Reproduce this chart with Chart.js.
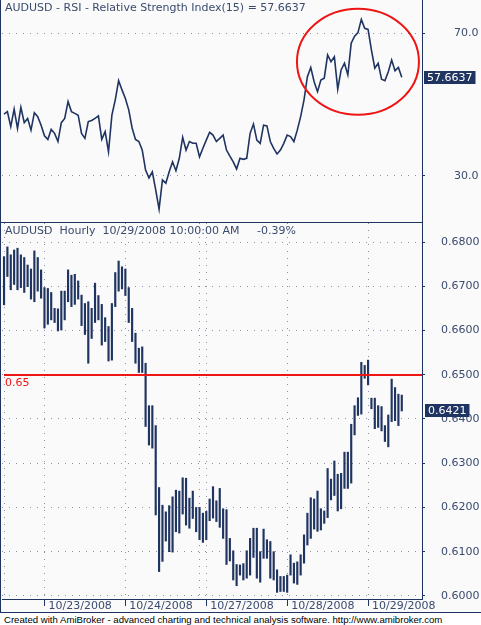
<!DOCTYPE html>
<html>
<head>
<meta charset="utf-8">
<title>AUDUSD Hourly - RSI</title>
<script src="https://cdn.jsdelivr.net/npm/chart.js@4.4.0/dist/chart.umd.min.js"></script>
<style>
    html, body { margin: 0; padding: 0; background: #fff; }
    #wrap { position: relative; width: 481px; height: 625px; overflow: hidden; }
    #rsi-pane { position: absolute; left: 0; top: 0; width: 481px; height: 223px; }
    #price-pane { position: absolute; left: 0; top: 223px; width: 481px; height: 390px; }
    #footer { position: absolute; left: 4px; top: 614px; font: 9.6px 'Liberation Sans', Arial, sans-serif; color: #000; white-space: nowrap; }
</style>
</head>
<body>
<div id="wrap">
    <div id="rsi-pane"><canvas id="rsi-chart"></canvas></div>
    <div id="price-pane"><canvas id="price-chart"></canvas></div>
    <div id="footer">Created with AmiBroker - advanced charting and technical analysis software. http://www.amibroker.com</div>
</div>
<script>
'use strict';

// AUDUSD hourly bars, 10/22/2008 12:00 .. 10/29/2008 10:00
let barHighs = [
    0.6767, 0.6789, 0.6771, 0.6782, 0.6786, 0.6771, 0.6765, 0.6748, 0.6739, 0.6780,
    0.6765, 0.6737, 0.6697, 0.6695, 0.6686, 0.6650, 0.6649, 0.6689, 0.6689, 0.6737,
    0.6725, 0.6727, 0.6712, 0.6680, 0.6661, 0.6665, 0.6650, 0.6707, 0.6679, 0.6659,
    0.6629, 0.6609, 0.6661, 0.6731, 0.6757, 0.6744, 0.6739, 0.6697, 0.6650, 0.6594,
    0.6560, 0.6563, 0.6526, 0.6430, 0.6430, 0.6385, 0.6245, 0.6205, 0.6190, 0.6204,
    0.6224, 0.6239, 0.6237, 0.6267, 0.6266, 0.6221, 0.6237, 0.6200, 0.6200, 0.6187,
    0.6191, 0.6219, 0.6247, 0.6215, 0.6243, 0.6197, 0.6195, 0.6130, 0.6102, 0.6071,
    0.6070, 0.6073, 0.6102, 0.6130, 0.6153, 0.6153, 0.6100, 0.6151, 0.6127, 0.6123,
    0.6100, 0.6059, 0.6044, 0.6044, 0.6047, 0.6093, 0.6074, 0.6077, 0.6093, 0.6138,
    0.6187, 0.6222, 0.6219, 0.6237, 0.6197, 0.6192, 0.6288, 0.6264, 0.6305, 0.6275,
    0.6277, 0.6325, 0.6325, 0.6388, 0.6430, 0.6448, 0.6528, 0.6521, 0.6533, 0.6447,
    0.6447, 0.6430, 0.6428, 0.6385, 0.6409, 0.6490, 0.6471, 0.6456, 0.6454
];
let barLows = [
    0.6658, 0.6722, 0.6692, 0.6704, 0.6692, 0.6697, 0.6686, 0.6699, 0.6671, 0.6665,
    0.6689, 0.6673, 0.6606, 0.6614, 0.6624, 0.6618, 0.6599, 0.6601, 0.6624, 0.6665,
    0.6654, 0.6659, 0.6671, 0.6611, 0.6591, 0.6526, 0.6582, 0.6618, 0.6624, 0.6567,
    0.6575, 0.6531, 0.6533, 0.6654, 0.6689, 0.6694, 0.6679, 0.6618, 0.6575, 0.6526,
    0.6505, 0.6505, 0.6383, 0.6341, 0.6334, 0.6183, 0.6055, 0.6078, 0.6124, 0.6100,
    0.6099, 0.6145, 0.6142, 0.6185, 0.6160, 0.6153, 0.6175, 0.6145, 0.6127, 0.6121,
    0.6127, 0.6170, 0.6176, 0.6168, 0.6155, 0.6130, 0.6071, 0.6079, 0.6036, 0.6023,
    0.6047, 0.6036, 0.6040, 0.6047, 0.6087, 0.6040, 0.6031, 0.6085, 0.6085, 0.6040,
    0.6036, 0.6008, 0.6010, 0.6010, 0.6008, 0.6047, 0.6029, 0.6026, 0.6047, 0.6074,
    0.6115, 0.6130, 0.6151, 0.6146, 0.6149, 0.6164, 0.6177, 0.6217, 0.6227, 0.6192,
    0.6197, 0.6243, 0.6243, 0.6255, 0.6364, 0.6408, 0.6411, 0.6492, 0.6477, 0.6423,
    0.6378, 0.6381, 0.6373, 0.6349, 0.6337, 0.6394, 0.6396, 0.6385, 0.6418
];
let rsiValues = [
    47.3, 48.0, 43.8, 48.7, 43.3, 49.2, 44.9, 46.1, 42.8, 47.7,
    46.6, 44.2, 41.2, 40.2, 43.0, 41.9, 39.6, 44.9, 46.1, 50.8,
    48.0, 47.5, 47.0, 41.9, 40.5, 45.2, 45.5, 46.1, 46.8, 40.2,
    42.4, 36.7, 47.0, 51.3, 56.7, 54.1, 51.7, 48.5, 43.4, 40.2,
    39.6, 37.2, 31.6, 29.4, 31.1, 26.0, 20.6, 28.8, 27.9, 31.1,
    33.9, 31.4, 34.9, 40.8, 37.2, 39.6, 39.1, 39.1, 35.3, 37.7,
    40.0, 42.2, 41.4, 39.6, 40.5, 41.4, 37.2, 35.5, 33.9, 31.9,
    34.9, 34.6, 34.9, 41.9, 44.5, 40.0, 39.1, 44.2, 44.0, 39.6,
    37.7, 36.1, 37.2, 39.1, 41.4, 41.0, 39.6, 42.8, 46.6, 51.3,
    57.8, 60.4, 56.4, 53.6, 56.9, 57.4, 63.9, 62.0, 63.4, 54.3,
    59.7, 61.6, 58.3, 67.2, 69.2, 70.2, 73.9, 71.4, 71.1, 65.3,
    60.2, 61.6, 57.1, 56.7, 59.2, 62.5, 59.5, 60.4, 57.6637
];

// first bar of each session and its axis label ('' = grid line only)
let dayStarts = [0, 12, 36, 58, 60, 84, 108];
let dayLabels = ['', '10/23/2008', '10/24/2008', '', '10/27/2008', '10/28/2008', '10/29/2008'];

let priceTicks = [0.60, 0.61, 0.62, 0.63, 0.64, 0.65, 0.66, 0.67, 0.68];
let rsiTicks = [30, 70];

let lastClose = 0.6421;
let lastRsi = 57.6637;
let priceChange = -0.39;
let refLevel = 0.65;
let rsiPeriod = 15;
// the hand drawn circle: around bar 105, rsi 62
let circleAt = {bar: 105, rsi: 62};

let navy = '#1f3461';
let gridColor = '#8892a6';
let textColor = '#3a4b6e';
let paneBg = '#fafafa';
let red = '#ee1515';
let font = "11px 'DejaVu Sans', Verdana, sans-serif";

Chart.defaults.font.family = "'DejaVu Sans', Verdana, sans-serif";
Chart.defaults.font.size = 11;

let xRange = {min: -0.6, max: 124};

function fillPane(chart) {
    let ctx = chart.ctx;
    ctx.save();
    ctx.fillStyle = paneBg;
    ctx.fillRect(0, 0, chart.width, chart.height);
    ctx.restore();
}

function valueTag(ctx, text, x, y) {
    ctx.font = font;
    let w = ctx.measureText(text).width + 6;
    let top = Math.round(y) - 6;
    ctx.fillStyle = navy;
    ctx.fillRect(x, top, w, 13);
    ctx.fillStyle = '#ffffff';
    ctx.textBaseline = 'middle';
    ctx.textAlign = 'left';
    ctx.fillText(text, x + 3, top + 7);
}

let rsiDecor = {
    id: 'rsiDecor',
    beforeDraw: fillPane,
    afterDraw(chart) {
        let ctx = chart.ctx;
        let area = chart.chartArea;
        let sx = chart.scales.x;
        let sy = chart.scales.y;
        ctx.save();
        ctx.strokeStyle = navy;
        ctx.lineWidth = 1;
        ctx.beginPath();
        ctx.moveTo(0.5, 0);
        ctx.lineTo(0.5, chart.height);
        ctx.moveTo(0, Math.round(area.bottom) + 0.5);
        ctx.lineTo(area.right, Math.round(area.bottom) + 0.5);
        ctx.stroke();

        ctx.font = font;
        ctx.fillStyle = textColor;
        ctx.textBaseline = 'middle';
        ctx.fillText('AUDUSD - RSI - Relative Strength Index(' + rsiPeriod + ') = ' + lastRsi.toFixed(4), 5, 8.5);

        ctx.strokeStyle = red;
        ctx.lineWidth = 2;
        ctx.beginPath();
        ctx.ellipse(sx.getPixelForValue(circleAt.bar), sy.getPixelForValue(circleAt.rsi), 61, 53, 0, 0, Math.PI * 2);
        ctx.stroke();

        valueTag(ctx, lastRsi.toFixed(4), area.right + 2, sy.getPixelForValue(lastRsi));
        ctx.restore();
    }
};

let priceDecor = {
    id: 'priceDecor',
    beforeDraw: fillPane,
    afterDatasetsDraw(chart) {
        let ctx = chart.ctx;
        let area = chart.chartArea;
        let y = Math.round(chart.scales.y.getPixelForValue(refLevel));
        ctx.save();
        ctx.strokeStyle = red;
        ctx.lineWidth = 2;
        ctx.beginPath();
        ctx.moveTo(area.left + 2, y);
        ctx.lineTo(area.right, y);
        ctx.stroke();
        ctx.font = font;
        ctx.fillStyle = red;
        ctx.textBaseline = 'top';
        ctx.fillText(refLevel.toFixed(2), 5, y + 3);
        ctx.restore();
    },
    afterDraw(chart) {
        let ctx = chart.ctx;
        let area = chart.chartArea;
        let sx = chart.scales.x;
        let sy = chart.scales.y;
        ctx.save();
        ctx.strokeStyle = navy;
        ctx.lineWidth = 1;
        ctx.beginPath();
        ctx.moveTo(0.5, 0);
        ctx.lineTo(0.5, chart.height);
        ctx.moveTo(0, chart.height - 0.5);
        ctx.lineTo(chart.width, chart.height - 0.5);
        dayStarts.forEach(function(v, i) {
            if (!dayLabels[i]) {
                return;
            }
            let x = Math.round(sx.getPixelForValue(v)) + 0.5;
            ctx.moveTo(x, area.bottom);
            ctx.lineTo(x, area.bottom + 7);
        });
        ctx.stroke();

        ctx.font = font;
        ctx.fillStyle = textColor;
        ctx.textBaseline = 'middle';
        ctx.fillText('AUDUSD  Hourly  10/29/2008 10:00:00 AM', 5, 8.5);
        ctx.fillText(priceChange.toFixed(2) + '%', 257, 8.5);

        valueTag(ctx, lastClose.toFixed(4), area.right + 3, sy.getPixelForValue(lastClose));
        ctx.restore();
    }
};

let rsiOptions = {
    type: 'line',
    data: {
        datasets: [{
            data: rsiValues.map((v, i) => ({x: i, y: v})),
            borderColor: navy,
            borderWidth: 1.6,
            pointRadius: 0,
            tension: 0
        }]
    },
    options: {
        responsive: true,
        maintainAspectRatio: false,
        animation: false,
        events: [],
        layout: {
            padding: {left: 2, top: 0, right: 0, bottom: 1}
        },
        plugins: {
            legend: {display: false},
            tooltip: {enabled: false}
        },
        scales: {
            x: {
                type: 'linear',
                min: xRange.min,
                max: xRange.max,
                display: false
            },
            y: {
                position: 'right',
                min: 17,
                max: 79.35,
                bounds: 'data',
                afterBuildTicks: s => { s.ticks = rsiTicks.map(v => ({value: v})); },
                afterFit: s => { s.width = 59; s.paddingTop = 0; s.paddingBottom = 0; },
                ticks: {
                    color: textColor,
                    padding: 29,
                    callback: v => Number(v).toFixed(1)
                },
                grid: {
                    color: gridColor,
                    tickColor: navy,
                    tickLength: 3
                },
                border: {
                    color: navy,
                    dash: [1, 6]
                }
            }
        }
    },
    plugins: [rsiDecor]
};

let priceOptions = {
    type: 'bar',
    data: {
        datasets: [{
            data: barLows.map((lo, i) => ({x: i, y: [lo, barHighs[i]]})),
            backgroundColor: navy,
            barThickness: 1.5,
            borderWidth: 0
        }]
    },
    options: {
        responsive: true,
        maintainAspectRatio: false,
        animation: false,
        events: [],
        layout: {
            padding: {left: 2, top: 0, right: 0, bottom: 0}
        },
        plugins: {
            legend: {display: false},
            tooltip: {enabled: false}
        },
        scales: {
            x: {
                type: 'linear',
                min: xRange.min,
                max: xRange.max,
                bounds: 'data',
                offset: false,
                afterBuildTicks: s => { s.ticks = dayStarts.map(v => ({value: v})); },
                afterFit: s => { s.height = 14; s.paddingLeft = 0; s.paddingRight = 0; },
                ticks: {
                    autoSkip: false,
                    maxRotation: 0,
                    align: 'start',
                    labelOffset: 4,
                    padding: 1,
                    color: textColor,
                    callback: (v, i) => dayLabels[i]
                },
                grid: {
                    color: gridColor,
                    drawTicks: false,
                    offset: false
                },
                border: {
                    color: navy,
                    dash: [1, 6]
                }
            },
            y: {
                position: 'right',
                min: 0.5993,
                max: 0.6843,
                bounds: 'data',
                afterBuildTicks: s => { s.ticks = priceTicks.map(v => ({value: v})); },
                afterFit: s => { s.width = 59; s.paddingTop = 0; s.paddingBottom = 0; },
                ticks: {
                    color: textColor,
                    padding: 16,
                    callback: v => Number(v).toFixed(4)
                },
                grid: {
                    color: gridColor,
                    tickColor: navy,
                    tickLength: 3
                },
                border: {
                    color: navy,
                    dash: [1, 6]
                }
            }
        }
    },
    plugins: [priceDecor]
};

let rsiChart = new Chart(document.getElementById('rsi-chart'), rsiOptions);
let priceChart = new Chart(document.getElementById('price-chart'), priceOptions);
</script>
</body>
</html>
